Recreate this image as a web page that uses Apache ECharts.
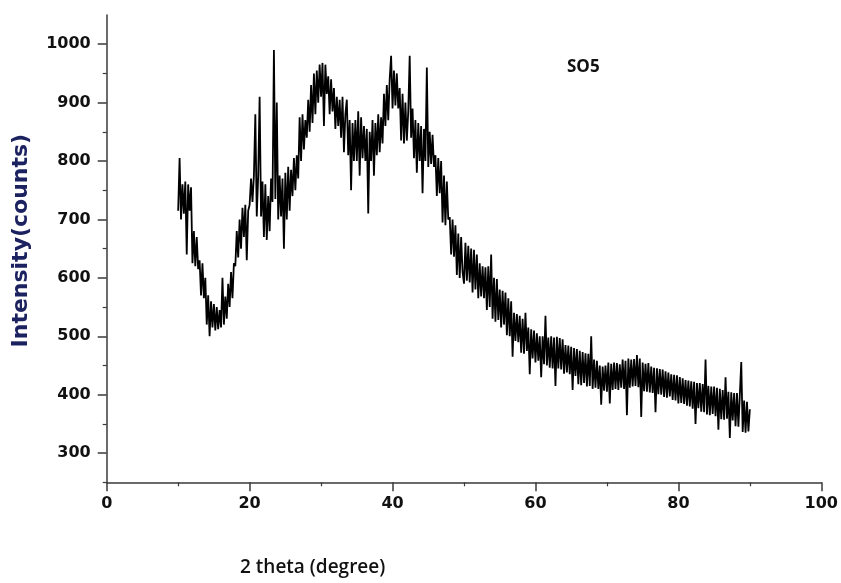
<!DOCTYPE html>
<html>
<head>
<meta charset="utf-8">
<script src="https://cdn.jsdelivr.net/npm/echarts@6/dist/echarts.min.js"></script>
<style>
html,body{margin:0;padding:0;background:#fff;}
#chart{width:841px;height:583px;}
</style>
</head>
<body>
<div id="chart"></div>
<script>
// Sampling grid of the scan (degrees 2θ)
const startAngle = 10.0;
const stepAngle = 0.2;

// Intensity (counts), one value per 0.2° (10.0° … 90.0°)
const i10 = [715,805,700,760,710, 765,640,760,715,755, 625,680,620,670,615, 630,570,625,565,600,
  520,570,500,560,515, 555,510,550,512,545, 515,600,520,568,530, 590,550,610,565,625,
  620,680,635,700,650, 720,670,725,630,715];
const i20 = [725,770,730,775,880, 705,775,910,705,765, 670,760,665,740,680, 770,730,990,735,900,
  700,775,705,770,650, 780,700,790,715,785, 740,805,750,810,770, 875,800,880,820,870,
  840,905,850,930,865, 950,880,955,900,965];
const i30 = [910,968,860,965,915, 945,880,940,885,925, 855,910,860,905,840, 910,815,880,905,810,
  870,750,865,800,870, 800,885,775,875,805, 860,800,855,710,850, 800,870,775,865,810,
  880,815,875,830,915, 860,930,870,940,980];
const i40 = [890,955,895,950,890, 925,835,915,830,900, 835,885,980,840,890, 805,870,780,865,800,
  860,745,855,800,960, 790,850,795,845,790, 810,740,805,745,800, 695,775,690,765,700,
  704,640,700,636,690, 605,676,600,670,610];
const i50 = [590,660,595,655,592, 650,575,648,580,640, 565,625,568,620,565, 618,545,620,550,640,
  530,600,525,598,528, 580,515,578,520,575, 502,565,500,560,465, 540,492,538,490,535,
  472,530,470,540,475, 515,435,512,462,510];
const i60 = [455,505,458,500,430, 500,452,535,450,498, 446,500,445,498,415, 499,445,497,443,495,
  436,485,438,484,435, 482,408,480,432,478, 418,475,416,473,420, 471,414,470,415,500,
  410,460,412,458,410, 450,383,448,407,450];
const i70 = [405,455,385,453,408, 455,410,454,408,452, 412,460,410,458,365, 462,412,460,414,461,
  415,468,413,462,362, 455,406,453,405,454, 404,448,403,446,370, 445,401,444,400,443,
  396,440,395,438,397, 435,391,434,390,433];
const i80 = [385,430,386,428,384, 425,381,424,380,423, 376,422,350,420,377, 420,371,418,370,460,
  366,415,365,414,367, 414,363,412,340,410, 358,408,357,430,359, 405,326,404,356,403,
  346,403,345,400,456, 336,390,335,388,337, 375];

// Axis ticks / labels
const xTickValues = [0, 20, 40, 60, 80, 100];
const yMajorTicks = [300, 400, 500, 600, 700, 800, 900, 1000];
const yMinorTicks = [250, 350, 450, 550, 650, 750, 850, 950];

const sampleName = 'SO5';
const xTitle = '2 theta (degree)';
const yTitle = 'Intensity(counts)';

const intensity = [].concat(i10, i20, i30, i40, i50, i60, i70, i80);
const seriesData = intensity.map((v, i) => [+(startAngle + i * stepAngle).toFixed(2), v]);

const axisColor = '#3a3a3a';
const labelFont = {fontFamily: 'DejaVu Sans', fontWeight: 'bold', fontSize: 16, color: '#111'};

const chart = echarts.init(document.getElementById('chart'), null, {renderer: 'canvas'});
chart.setOption({
  animation: false,
  backgroundColor: '#fff',
  grid: {left: 106.7, right: 19.3, top: 15, bottom: 100.7, containLabel: false},
  xAxis: {
    type: 'value', min: 0, max: 100, interval: 20,
    axisLine: {show: true, onZero: false, lineStyle: {color: axisColor, width: 1.5}},
    axisTick: {show: true, length: 9, lineStyle: {color: axisColor, width: 1.5}},
    minorTick: {show: true, splitNumber: 2, length: 4, lineStyle: {color: axisColor, width: 1.2}},
    axisLabel: Object.assign({margin: 14, formatter: v => xTickValues.includes(v) ? String(v) : ''}, labelFont),
    splitLine: {show: false}
  },
  yAxis: [{
    type: 'value', min: 250, max: 1050, position: 'left',
    axisLine: {show: true, lineStyle: {color: axisColor, width: 1.5}},
    axisTick: {show: true, length: 9, customValues: yMajorTicks, lineStyle: {color: axisColor, width: 1.5}},
    axisLabel: Object.assign({margin: 16, customValues: yMajorTicks, formatter: v => String(v)}, labelFont),
    splitLine: {show: false},
    name: yTitle, nameLocation: 'middle', nameGap: 74,
    nameTextStyle: {fontFamily: 'DejaVu Sans', fontWeight: 'bold', fontSize: 22, color: '#1c2260', padding: [0, 0, 0, 16]}
  }, {
    type: 'value', min: 250, max: 1050, position: 'left',
    axisLine: {show: false},
    axisTick: {show: true, length: 4, customValues: yMinorTicks, lineStyle: {color: axisColor, width: 1.2}},
    axisLabel: {show: false},
    splitLine: {show: false}
  }],
  series: [{
    type: 'line', xAxisIndex: 0, yAxisIndex: 0,
    data: seriesData, showSymbol: false, symbol: 'none',
    lineStyle: {color: '#000', width: 1.8},
    emphasis: {disabled: true}
  }],
  graphic: [{
    type: 'text', left: 567, top: 59,
    style: {text: sampleName, font: 'bold 17px "Open Sans"', fill: '#111'}
  }, {
    type: 'text', left: 240, top: 558,
    style: {text: xTitle, font: '600 19px "Open Sans"', fill: '#111'}
  }]
});
</script>
</body>
</html>
